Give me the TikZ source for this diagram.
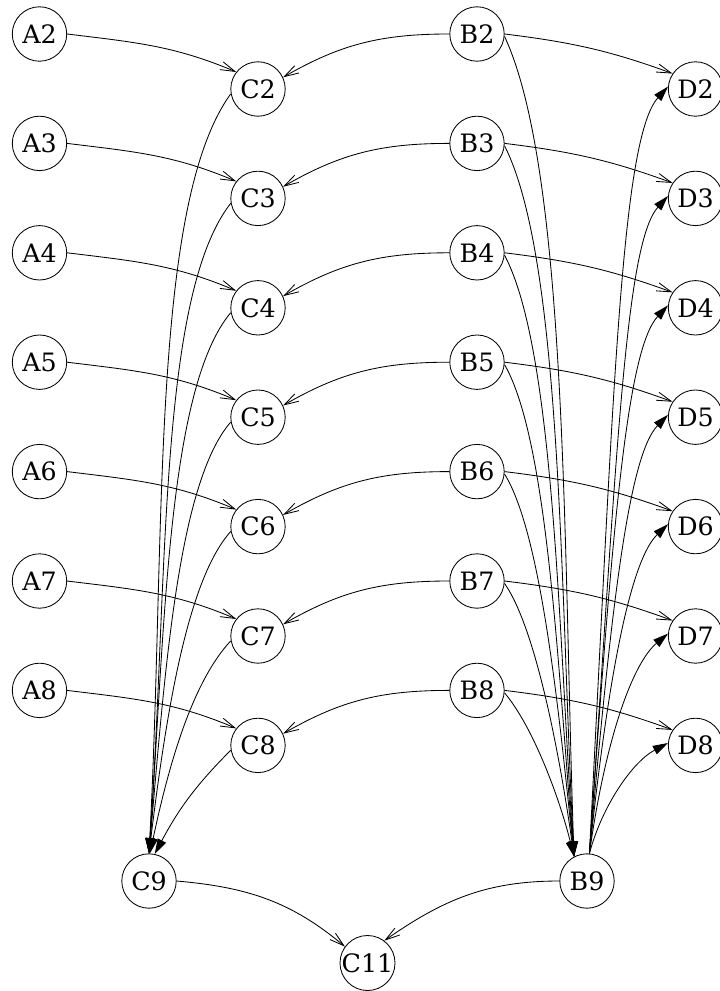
\documentclass[tikz,border=0pt]{standalone}
\usepackage{fontspec}
\setmainfont{DejaVu Serif}
\usetikzlibrary{arrows.meta}

\begin{document}
\begin{tikzpicture}[
    x=0.025cm, y=0.025cm,
    vnode/.style = {circle, draw, line width=0.6pt, minimum size=1.36cm,
                    inner sep=0pt, font=\fontsize{18}{20}\selectfont},
    vlink/.style = {line width=0.6pt,
                    -{Straight Barb[length=3.6mm, width=2.1mm]}},
    tlink/.style = {line width=0.6pt,
                    -{Triangle[length=3.8mm, width=2.3mm]}},
]
\useasboundingbox (0,0) rectangle (720,-991);

%% ── Nodes ────────────────────────────────────────────────────────────────────
\foreach \k in {0,...,6} {
  \pgfmathtruncatemacro{\i}{\k+2}
  \pgfmathsetmacro{\yab}{-34-109.4*\k}
  \pgfmathsetmacro{\ycd}{-89-109.4*\k}
  \node[vnode] (A\i) at (39.5,\yab)  {A\i};
  \node[vnode] (B\i) at (477,\yab)   {B\i};
  \node[vnode] (C\i) at (258,\ycd)   {C\i};
  \node[vnode] (D\i) at (695.5,\ycd) {D\i};
}
\node[vnode] (C9)  at (149,-881)   {C9};
\node[vnode] (B9)  at (587,-881)   {B9};
\node[vnode] (C11) at (367.5,-963) {C11};

%% ── Row links ────────────────────────────────────────────────────────────────
\foreach \i in {2,...,8} {
  \draw[vlink] (A\i.east) to[out=-7, in=157] (C\i.142);
  \draw[vlink] (B\i.west) to[out=180, in=30] (C\i.25);
  \draw[vlink] (B\i.east) to[out=-7, in=160] (D\i.146);
}

%% ── Into C9 ──────────────────────────────────────────────────────────────────
\foreach \i/\ao/\lo/\ai/\li/\e in {2/234/137/87/320/90, 3/232/118/86/275/90,
    4/230/98/86/230/90, 5/229/80/85/185/90, 6/228/65/83/140/90,
    7/227/55/78/95/88, 8/225/50/62/50/78}
  \draw[tlink] (C\i.190) .. controls +(\ao:\lo) and +(\ai:\li) .. (C9.\e);

%% ── Into B9 ──────────────────────────────────────────────────────────────────
\foreach \i/\ao/\lo/\ai/\li in {2/-65/150/92/300, 3/-63/127/93/260,
    4/-62/107/94/220, 5/-60/88/95/180, 6/-58/70/96/140,
    7/-55/55/98/100, 8/-50/45/104/60}
  \draw[tlink] (B\i.-5) .. controls +(\ao:\lo) and +(\ai:\li) .. (B9.118);

%% ── Out of B9 ────────────────────────────────────────────────────────────────
\foreach \i/\ao/\lo/\ai/\li in {2/87/460/228/70, 3/86/390/228/65,
    4/86/330/227/60, 5/85/260/226/55, 6/84/190/224/50,
    7/82/120/220/45, 8/75/50/208/40}
  \draw[tlink] (B9.85) .. controls +(\ao:\lo) and +(\ai:\li) .. (D\i.175);

%% ── Into C11 ─────────────────────────────────────────────────────────────────
\draw[vlink] (C9.east) to[out=-5, in=140] (C11.144);
\draw[vlink] (B9.west) to[out=180, in=35] (C11.53);

\end{tikzpicture}
\end{document}
